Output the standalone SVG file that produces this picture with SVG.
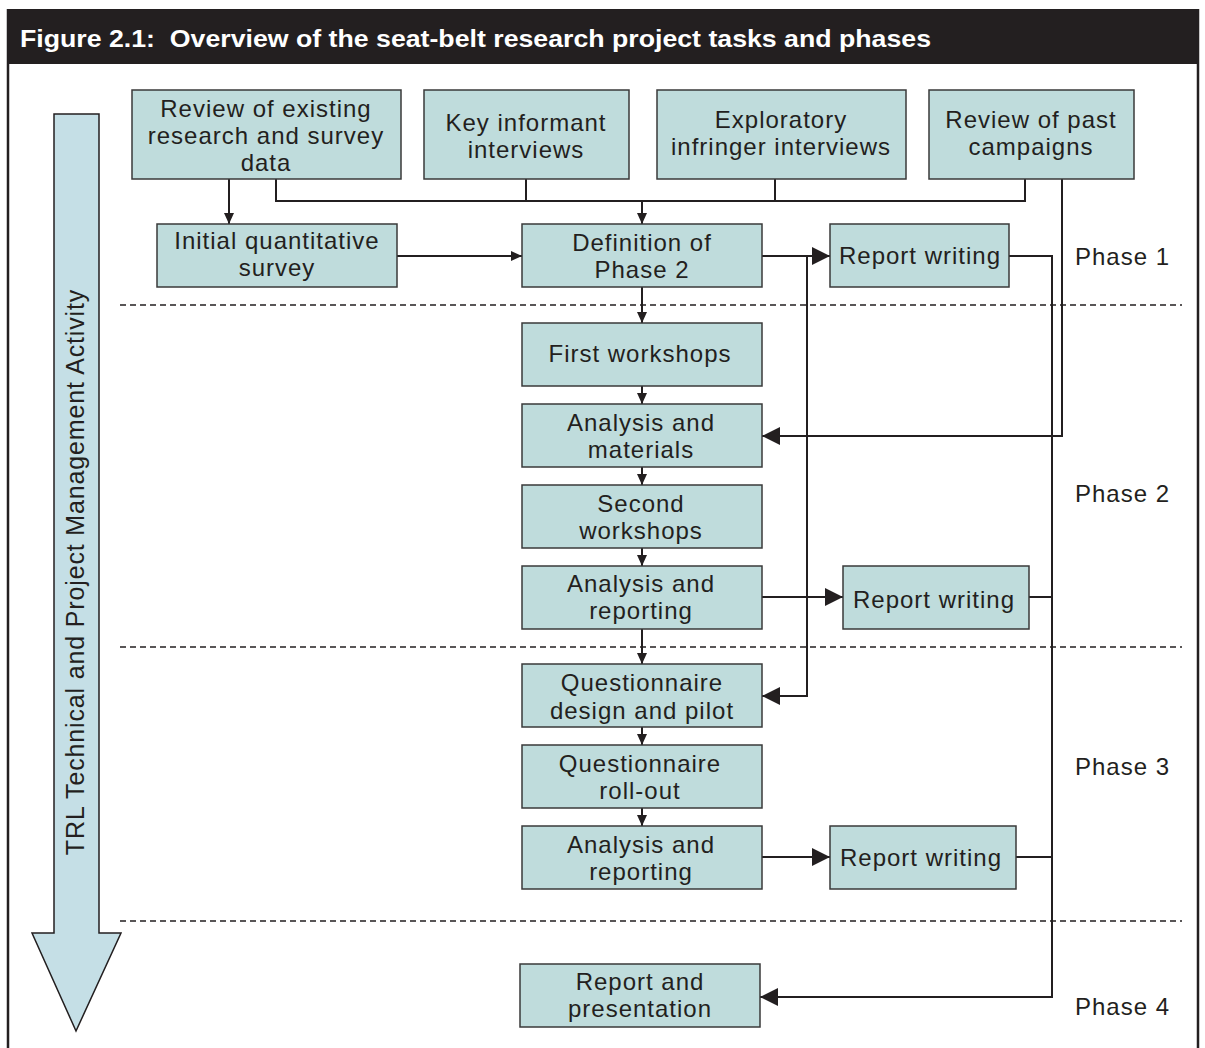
<svg xmlns="http://www.w3.org/2000/svg" width="1205" height="1048" viewBox="0 0 1205 1048">
<defs>
<style>
.box{fill:#bfdcdc;stroke:#3a3a3a;stroke-width:1.5}
.t{font-family:"Liberation Sans",Arial,sans-serif;font-size:24px;letter-spacing:1px;fill:#231f20;text-anchor:middle}
.ph{font-family:"Liberation Sans",Arial,sans-serif;font-size:24px;letter-spacing:1px;fill:#231f20}
.c{fill:none;stroke:#231f20;stroke-width:2}
.d{fill:none;stroke:#231f20;stroke-width:1.6;stroke-dasharray:6 4}
</style>
<marker id="sm" viewBox="0 0 11 10" refX="11" refY="5" markerWidth="11" markerHeight="10" markerUnits="userSpaceOnUse" orient="auto"><path d="M0,0 L11,5 L0,10 z" fill="#231f20"/></marker>
<marker id="lg" viewBox="0 0 18 18" refX="18" refY="9" markerWidth="18" markerHeight="18" markerUnits="userSpaceOnUse" orient="auto"><path d="M0,0 L18,9 L0,18 z" fill="#231f20"/></marker>
</defs>
<rect width="1205" height="1048" fill="#ffffff"/>
<g id="frame">
<rect x="8" y="9" width="1190" height="55" fill="#231f20"/>
<line x1="8" y1="9" x2="8" y2="1048" stroke="#231f20" stroke-width="2.5"/>
<line x1="1198" y1="9" x2="1198" y2="1048" stroke="#231f20" stroke-width="2.5"/>
<text x="20" y="47" xml:space="preserve" textLength="911" lengthAdjust="spacingAndGlyphs" font-family="Liberation Sans,Arial,sans-serif" font-size="24.5" font-weight="bold" fill="#ffffff">Figure 2.1:  Overview of the seat-belt research project tasks and phases</text>
</g>
<g id="activity-arrow">
<polygon points="54,114 99,114 99,933 121,933 76,1031 32,933 54,933" fill="#c5dfe6" stroke="#231f20" stroke-width="1.5"/>
<text class="t" transform="translate(84,572) rotate(-90)" style="font-size:25px;letter-spacing:0.85px">TRL Technical and Project Management Activity</text>
</g>
<g id="phase-dividers">
<line class="d" x1="120" y1="305" x2="1182" y2="305"/>
<line class="d" x1="120" y1="647" x2="1182" y2="647"/>
<line class="d" x1="120" y1="921" x2="1182" y2="921"/>
</g>
<g id="phase-labels">
<text class="ph" x="1075" y="265">Phase 1</text>
<text class="ph" x="1075" y="502">Phase 2</text>
<text class="ph" x="1075" y="775">Phase 3</text>
<text class="ph" x="1075" y="1015">Phase 4</text>
</g>
<g id="connectors">
<path class="c" d="M229,179 V224" marker-end="url(#sm)"/>
<path class="c" d="M276,179 V201 H1025 V179"/>
<path class="c" d="M526,179 V201"/>
<path class="c" d="M775,179 V201"/>
<path class="c" d="M642,201 V224" marker-end="url(#sm)"/>
<path class="c" d="M397,256 H522" marker-end="url(#sm)"/>
<path class="c" d="M762,256 H830" marker-end="url(#lg)"/>
<path class="c" d="M807,256 V696 H762" marker-end="url(#lg)"/>
<path class="c" d="M642,287 V323" marker-end="url(#sm)"/>
<path class="c" d="M642,386 V404" marker-end="url(#sm)"/>
<path class="c" d="M642,467 V485" marker-end="url(#sm)"/>
<path class="c" d="M642,548 V566" marker-end="url(#sm)"/>
<path class="c" d="M642,629 V664" marker-end="url(#sm)"/>
<path class="c" d="M642,727 V745" marker-end="url(#sm)"/>
<path class="c" d="M642,808 V826" marker-end="url(#sm)"/>
<path class="c" d="M762,597 H843" marker-end="url(#lg)"/>
<path class="c" d="M762,857 H830" marker-end="url(#lg)"/>
<path class="c" d="M1062,179 V436 H762" marker-end="url(#lg)"/>
<path class="c" d="M1009,256 H1052 V997 H760" marker-end="url(#lg)"/>
<path class="c" d="M1029,597 H1052"/>
<path class="c" d="M1016,857 H1052"/>
</g>
<g id="review-existing">
<rect class="box" x="132" y="90" width="269" height="89"/>
<text class="t" y="117"><tspan x="266">Review of existing</tspan><tspan x="266" dy="27">research and survey</tspan><tspan x="266" dy="27">data</tspan></text>
</g>
<g id="key-informant">
<rect class="box" x="424" y="90" width="205" height="89"/>
<text class="t" y="131"><tspan x="526">Key informant</tspan><tspan x="526" dy="27">interviews</tspan></text>
</g>
<g id="exploratory">
<rect class="box" x="657" y="90" width="249" height="89"/>
<text class="t" y="128"><tspan x="781">Exploratory</tspan><tspan x="781" dy="27">infringer interviews</tspan></text>
</g>
<g id="review-past">
<rect class="box" x="929" y="90" width="205" height="89"/>
<text class="t" y="128"><tspan x="1031">Review of past</tspan><tspan x="1031" dy="27">campaigns</tspan></text>
</g>
<g id="initial-survey">
<rect class="box" x="157" y="224" width="240" height="63"/>
<text class="t" y="249"><tspan x="277">Initial quantitative</tspan><tspan x="277" dy="27">survey</tspan></text>
</g>
<g id="definition-phase2">
<rect class="box" x="522" y="224" width="240" height="63"/>
<text class="t" y="251"><tspan x="642">Definition of</tspan><tspan x="642" dy="27">Phase 2</tspan></text>
</g>
<g id="report-writing-1">
<rect class="box" x="830" y="224" width="179" height="63"/>
<text class="t" x="920" y="264">Report writing</text>
</g>
<g id="first-workshops">
<rect class="box" x="522" y="323" width="240" height="63"/>
<text class="t" x="640" y="362">First workshops</text>
</g>
<g id="analysis-materials">
<rect class="box" x="522" y="404" width="240" height="63"/>
<text class="t" y="431"><tspan x="641">Analysis and</tspan><tspan x="641" dy="27">materials</tspan></text>
</g>
<g id="second-workshops">
<rect class="box" x="522" y="485" width="240" height="63"/>
<text class="t" y="512"><tspan x="641">Second</tspan><tspan x="641" dy="27">workshops</tspan></text>
</g>
<g id="analysis-reporting-2">
<rect class="box" x="522" y="566" width="240" height="63"/>
<text class="t" y="592"><tspan x="641">Analysis and</tspan><tspan x="641" dy="27">reporting</tspan></text>
</g>
<g id="report-writing-2">
<rect class="box" x="843" y="566" width="186" height="63"/>
<text class="t" x="934" y="608">Report writing</text>
</g>
<g id="questionnaire-design">
<rect class="box" x="522" y="664" width="240" height="63"/>
<text class="t" y="691"><tspan x="642">Questionnaire</tspan><tspan x="642" dy="28">design and pilot</tspan></text>
</g>
<g id="questionnaire-rollout">
<rect class="box" x="522" y="745" width="240" height="63"/>
<text class="t" y="772"><tspan x="640">Questionnaire</tspan><tspan x="640" dy="27">roll-out</tspan></text>
</g>
<g id="analysis-reporting-3">
<rect class="box" x="522" y="826" width="240" height="63"/>
<text class="t" y="853"><tspan x="641">Analysis and</tspan><tspan x="641" dy="27">reporting</tspan></text>
</g>
<g id="report-writing-3">
<rect class="box" x="830" y="826" width="186" height="63"/>
<text class="t" x="921" y="866">Report writing</text>
</g>
<g id="report-presentation">
<rect class="box" x="520" y="964" width="240" height="63"/>
<text class="t" y="990"><tspan x="640">Report and</tspan><tspan x="640" dy="27">presentation</tspan></text>
</g>
</svg>
